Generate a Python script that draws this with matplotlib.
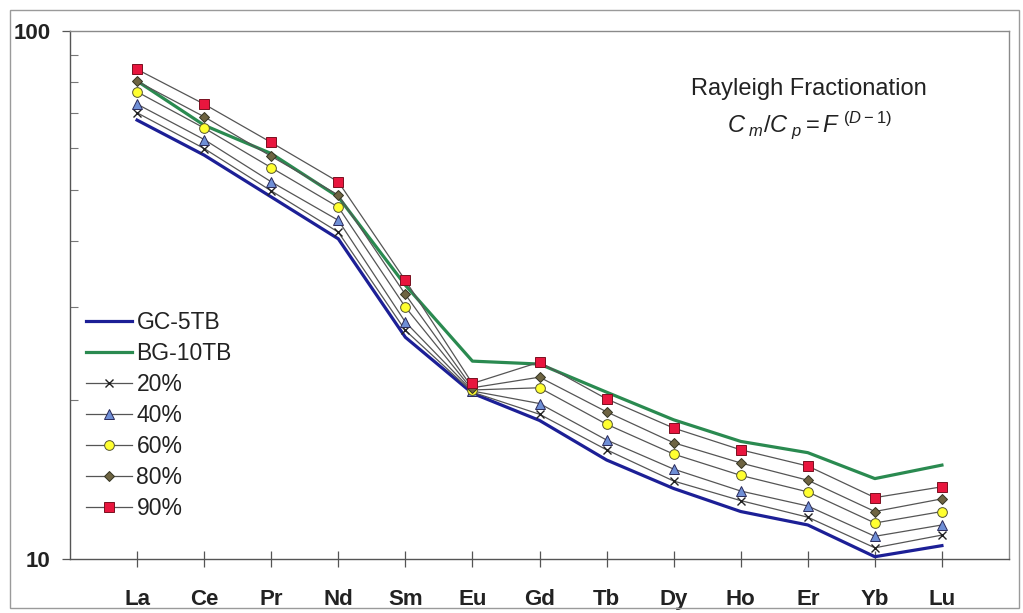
import matplotlib
matplotlib.use("Agg")
import matplotlib.pyplot as plt
from matplotlib.patches import Rectangle
from matplotlib.ticker import FixedLocator, FixedFormatter, NullFormatter, LogLocator

plt.rcParams['font.family'] = ['Liberation Sans', 'DejaVu Sans']
plt.rcParams['mathtext.fontset'] = 'custom'
plt.rcParams['mathtext.rm'] = 'Liberation Sans'
plt.rcParams['mathtext.it'] = 'Liberation Sans:italic'
plt.rcParams['mathtext.bf'] = 'Liberation Sans:bold'

elements = ['La', 'Ce', 'Pr', 'Nd', 'Sm', 'Eu', 'Gd', 'Tb', 'Dy', 'Ho', 'Er', 'Yb', 'Lu']

gc_5tb = [67.8, 58.2, 48.5, 40.4, 26.3, 20.6, 18.3, 15.4, 13.6, 12.3, 11.6, 10.1, 10.6]
bg_10tb = [80.4, 66.3, 58.6, 48.5, 33.0, 23.7, 23.4, 20.7, 18.35, 16.7, 15.9, 14.2, 15.06]
f20 = [70.0, 59.9, 49.8, 41.6, 27.1, 20.7, 18.8, 16.1, 14.05, 12.9, 12.0, 10.5, 11.1]
f40 = [72.7, 62.3, 51.8, 43.8, 28.1, 20.8, 19.7, 16.8, 14.8, 13.45, 12.6, 11.04, 11.6]
f60 = [76.7, 65.5, 55.1, 46.4, 30.0, 20.9, 21.1, 18.0, 15.8, 14.4, 13.4, 11.7, 12.3]
f80 = [80.3, 68.8, 57.9, 48.9, 31.7, 21.1, 22.1, 19.0, 16.6, 15.2, 14.1, 12.3, 13.0]
f90 = [84.6, 72.7, 61.5, 51.8, 33.7, 21.5, 23.6, 20.1, 17.7, 16.1, 15.0, 13.07, 13.7]

series_labels = ['GC-5TB', 'BG-10TB', '20%', '40%', '60%', '80%', '90%']

fig = plt.figure(figsize=(10.23, 6.13), dpi=100)
fig.patch.set_facecolor('white')
fig.add_artist(Rectangle((10 / 1023, 5 / 613), 1009 / 1023, 598 / 613,
                         transform=fig.transFigure, fill=False,
                         edgecolor='#9a9a9a', linewidth=1.0))

ax = fig.add_axes([70 / 1023, (613 - 559) / 613, 939 / 1023, 528 / 613])
x = list(range(len(elements)))

ax.plot(x, gc_5tb, color='#1c1f96', lw=2.3, label=series_labels[0], zorder=3)
ax.plot(x, bg_10tb, color='#2a8a50', lw=2.3, label=series_labels[1], zorder=3)

lc = '#555555'
ax.plot(x, f20, color=lc, lw=0.9, marker='x', ms=6, mew=1.0, mec='#222222',
        label=series_labels[2], zorder=4)
ax.plot(x, f40, color=lc, lw=0.9, marker='^', ms=7, mfc='#6f8fd6', mec='#2a2a5a',
        mew=0.7, label=series_labels[3], zorder=4)
ax.plot(x, f60, color=lc, lw=0.9, marker='o', ms=7, mfc='#ffff30', mec='#555533',
        mew=0.7, label=series_labels[4], zorder=4)
ax.plot(x, f80, color=lc, lw=0.9, marker='D', ms=5.5, mfc='#6e6442', mec='#333322',
        mew=0.7, label=series_labels[5], zorder=4)
ax.plot(x, f90, color=lc, lw=0.9, marker='s', ms=7, mfc='#e8163e', mec='#7a1020',
        mew=0.7, label=series_labels[6], zorder=4)

ax.set_yscale('log')
ax.set_ylim(10, 100)
ax.set_xlim(-1, 13)

ax.set_xticks(x)
ax.set_xticklabels(elements, fontsize=16, fontweight='bold', color='#222222')
ax.tick_params(axis='x', direction='inout', length=11, width=0.9,
               color='#555555', pad=16)

ax.yaxis.set_major_locator(FixedLocator([10, 100]))
ax.yaxis.set_major_formatter(FixedFormatter(['10', '100']))
ax.yaxis.set_minor_locator(LogLocator(base=10, subs=range(2, 10)))
ax.yaxis.set_minor_formatter(NullFormatter())
ax.tick_params(axis='y', which='major', direction='out', length=6, width=0.9,
               color='#555555', pad=8, labelsize=16)
for lab in ax.get_yticklabels():
    lab.set_fontweight('bold')
    lab.set_color('#222222')
ax.tick_params(axis='y', which='minor', direction='in', length=6, width=0.8,
               color='#777777')

for side in ['left', 'bottom']:
    ax.spines[side].set_color('#555555')
    ax.spines[side].set_linewidth(1.0)
for side in ['top', 'right']:
    ax.spines[side].set_color('#8a8a8a')
    ax.spines[side].set_linewidth(1.0)

leg = ax.legend(loc='upper left', bbox_to_anchor=(0.0, 0.5), frameon=False,
                fontsize=16.5, handlelength=2.0, handletextpad=0.2,
                labelspacing=0.35, borderaxespad=0.3)
for t in leg.get_texts():
    t.set_color('#222222')

ax.text(0.787, 0.890, 'Rayleigh Fractionation', transform=ax.transAxes,
        ha='center', va='center', fontsize=17, color='#222222')
ax.text(0.787, 0.822, r'$C_{\ m}/C_{\ p}{=}F^{\ (D-1)}$', transform=ax.transAxes,
        ha='center', va='center', fontsize=17, color='#222222')

fig.savefig('out.png', dpi=100, facecolor='white')
